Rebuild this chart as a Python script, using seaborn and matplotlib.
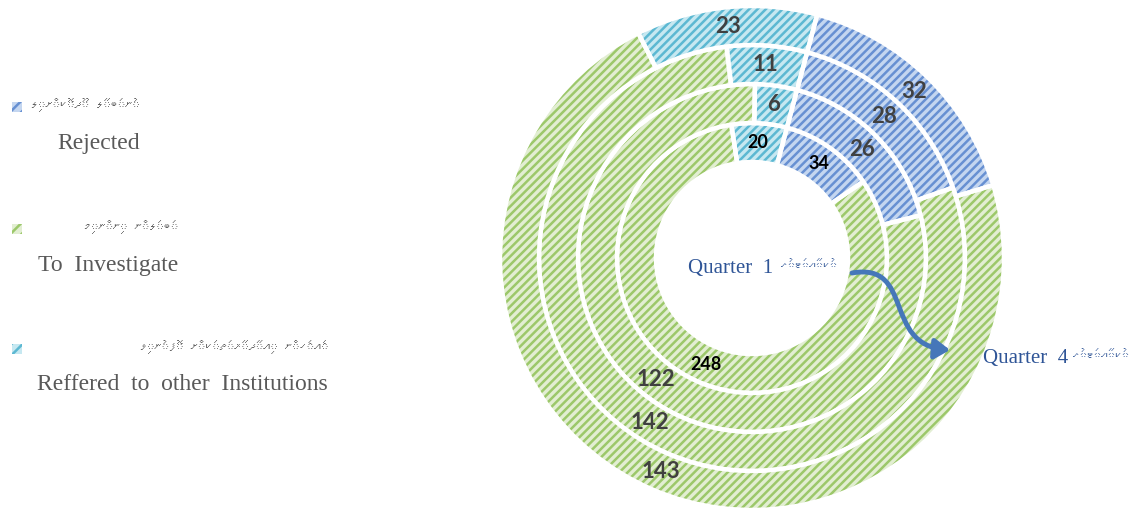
import matplotlib
matplotlib.use("Agg")
import matplotlib.pyplot as plt
import numpy as np
import seaborn as sns
from matplotlib import font_manager
from matplotlib.patches import FancyArrowPatch, Rectangle
from matplotlib.path import Path

# --- data (rings from inner = Quarter 1 to outer = Quarter 4) ---
quarters = ["Quarter 1", "Quarter 2", "Quarter 3", "Quarter 4"]
rejected = [34, 26, 28, 32]
investigate = [248, 122, 142, 143]
referred = [20, 6, 11, 23]

categories_en = ["Rejected", "To  Investigate", "Reffered  to  other  Institutions"]
categories_dv = ["ނުބަލާ ދޫކޮށްލި", "ބަލަން ނިންމި", "އެހެން އިދާރާތަކަށް ފޮނުވި"]
quarter_dv = "ކުއާޓަރު"

face_colors = ["#c4d6f0", "#e2eed2", "#c6e8f1"]
hatch_colors = ["#6790d2", "#9cc86a", "#5cb8d2"]

sns.set_theme(style="white")
plt.rcParams["hatch.linewidth"] = 1.8


def find_thaana_family():
    try:
        from fontTools.ttLib import TTFont
    except ImportError:
        return None
    for path in font_manager.findSystemFonts():
        try:
            cmap = TTFont(path, fontNumber=0, lazy=True).getBestCmap()
        except Exception:
            continue
        if cmap and 0x0784 in cmap:
            return font_manager.FontProperties(fname=path).get_name()
    return None


def rtl(text):
    # matplotlib has no bidi: reverse letters but keep fili marks on their letter
    clusters = []
    for ch in text:
        if 0x07A6 <= ord(ch) <= 0x07B0 and clusters:
            clusters[-1] += ch
        else:
            clusters.append(ch)
    return "".join(reversed(clusters))


thaana = find_thaana_family()
dv_family = ([thaana] if thaana else []) + ["DejaVu Sans"]

W, H = 1133, 512
fig = plt.figure(figsize=(W / 100, H / 100), dpi=100)
ax = fig.add_axes([0, 0, 1, 1])

cx, cy = 752, H - 258
R = 252
ring_w = 39

for i, q in enumerate(quarters):
    vals = [rejected[i], investigate[i], referred[i]]
    radius = R - (len(quarters) - 1 - i) * ring_w
    wedges, _ = ax.pie(vals, center=(cx, cy), radius=radius, startangle=75,
                       counterclock=False, colors=face_colors,
                       wedgeprops=dict(width=ring_w, linewidth=0))
    for w, hc in zip(wedges, hatch_colors):
        w.set_hatch("////")
        w.set_edgecolor(hc)
    # white separators on top
    ax.pie(vals, center=(cx, cy), radius=radius, startangle=75,
           counterclock=False, colors=["none"] * 3,
           wedgeprops=dict(width=ring_w, edgecolor="white", linewidth=3.2))
    for w, v in zip(wedges, vals):
        ang = np.deg2rad((w.theta1 + w.theta2) / 2)
        rm = w.r - w.width / 2
        inner = i == 0
        ax.text(cx + rm * np.cos(ang), cy + rm * np.sin(ang), str(v),
                ha="center", va="center", family="Lato", weight="bold",
                fontsize=13 if inner else 16,
                color="black" if inner else "#404040")

# quarter captions + arrow
q_color = "#2f5597"
ax.text(688, H - 268, "Quarter  1", ha="left", va="center",
        family="Liberation Serif", fontsize=15, color=q_color)
ax.text(781, H - 266, rtl(quarter_dv), ha="left", va="center",
        family=dv_family, fontsize=10, color=q_color)
ax.text(983, H - 358, "Quarter  4", ha="left", va="center",
        family="Liberation Serif", fontsize=15, color=q_color)
ax.text(1073, H - 356, rtl(quarter_dv), ha="left", va="center",
        family=dv_family, fontsize=10, color=q_color)

verts = [(852, H - 273), (915, H - 262), (882, H - 345), (950, H - 350)]
arrow = FancyArrowPatch(path=Path(verts, [Path.MOVETO, Path.CURVE4, Path.CURVE4, Path.CURVE4]),
                        arrowstyle="-|>,head_length=9,head_width=6",
                        color="#4677b9", lw=3.5, mutation_scale=1)
ax.add_patch(arrow)

# legend (manual, two-line entries)
leg_y = [107, 229, 349]
leg_right = [140, 178, 328]
for en, dv, fc, hc, y, xr in zip(categories_en, categories_dv, face_colors,
                                 hatch_colors, leg_y, leg_right):
    ax.add_patch(Rectangle((12, H - y - 5), 10, 10, facecolor=fc,
                           edgecolor=hc, hatch="///", linewidth=0))
    ax.text(xr, H - y + 2, rtl(dv), ha="right", va="center",
            family=dv_family, fontsize=10.5, color="#595959")
    ax.text(xr, H - y - 36, en, ha="right", va="center",
            family="Liberation Serif", fontsize=17, color="#595959")

ax.set_xlim(0, W)
ax.set_ylim(0, H)
ax.set_aspect("equal")
ax.axis("off")
fig.savefig("out.png", dpi=100)
